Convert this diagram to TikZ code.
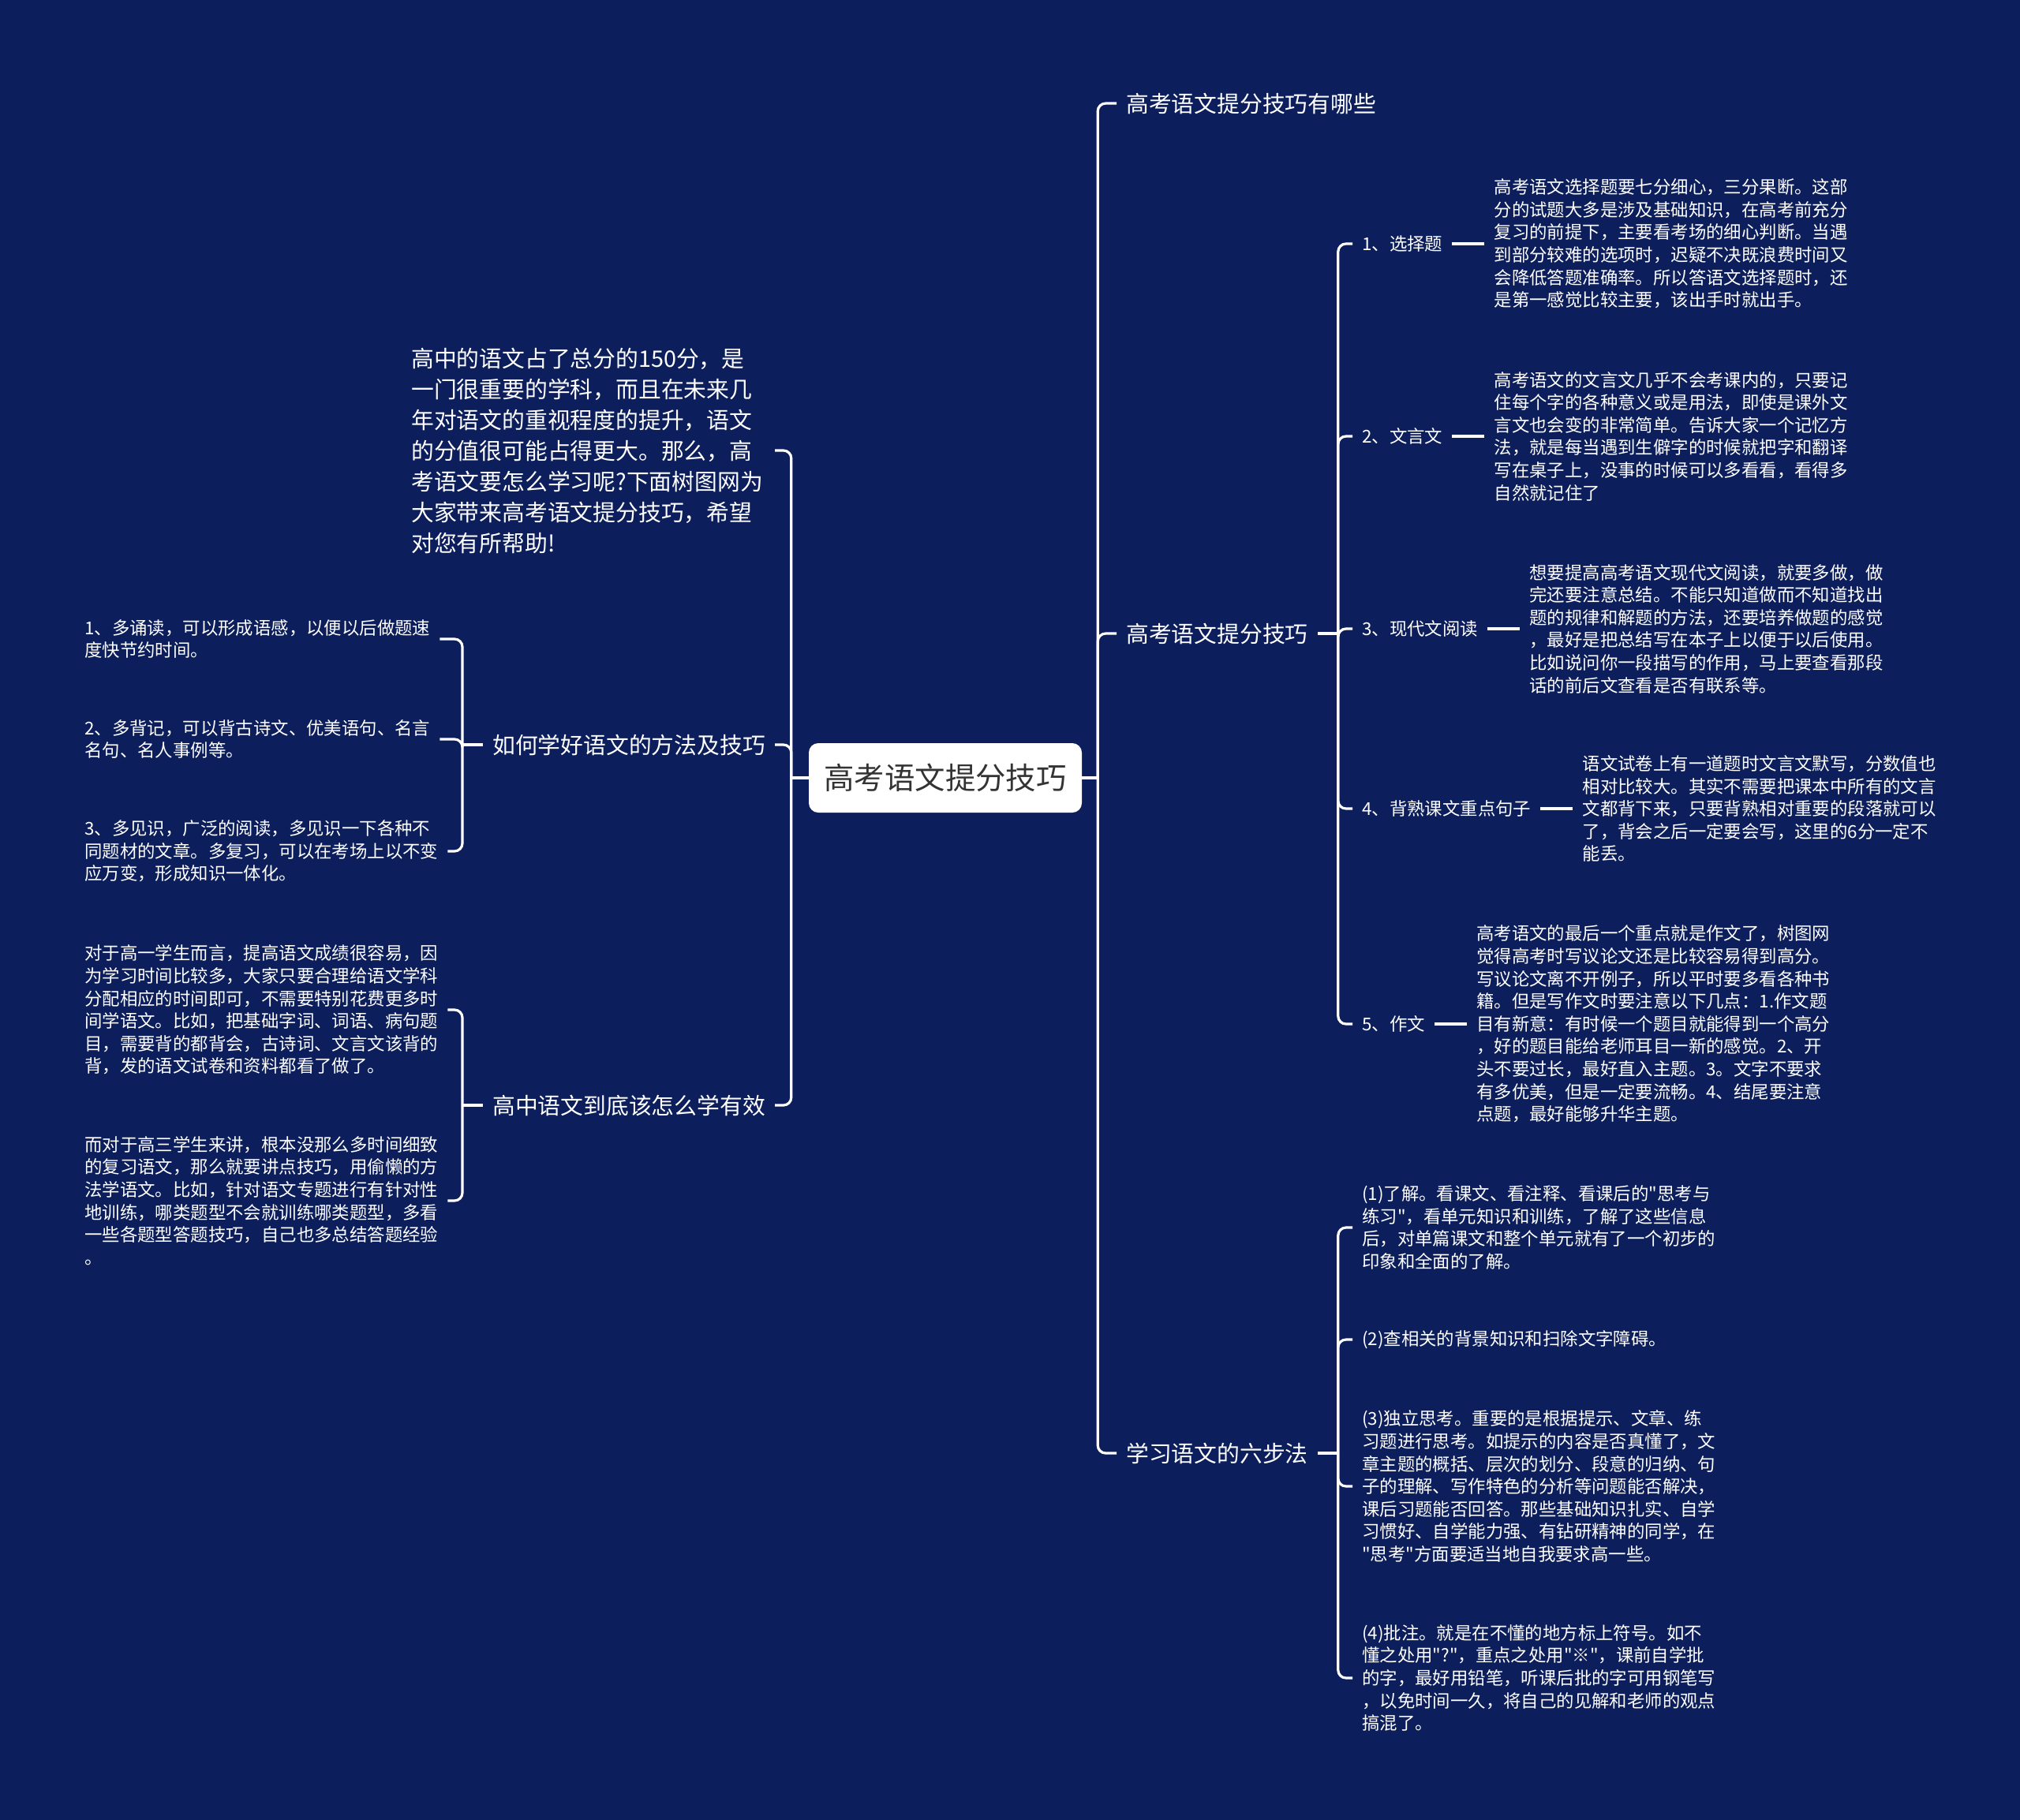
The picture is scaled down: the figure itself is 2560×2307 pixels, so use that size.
\documentclass[tikz,border=0pt]{standalone}
\usepackage{fontspec}
\setmainfont{Noto Sans CJK SC}[Ligatures=TeXOff]
\usetikzlibrary{positioning}
\definecolor{bg}{HTML}{0C1E5B}
\definecolor{ctext}{HTML}{333333}
\begin{document}
\begin{tikzpicture}[x=1pt,y=-1pt,
  conn/.style={draw=white,line width=3.2pt,rounded corners=10pt},
  lvl/.style={text=white,font=\fontsize{28.8}{39}\selectfont,inner xsep=12pt,inner ysep=4pt,align=left},
  sm/.style={text=white,font=\fontsize{22.4}{28.6}\selectfont,inner xsep=12pt,inner ysep=4pt,align=left},
  root/.style={fill=white,rounded corners=12pt,text=ctext,font=\fontsize{38.4}{46}\selectfont,minimum width=346pt,minimum height=88pt,inner sep=0pt}]
\fill[bg] (0,0) rectangle (2560,2307);
\useasboundingbox (0,0) rectangle (2560,2307);

\node[root] (R) at (1198,986) {高考语文提分技巧};

% right level 1
\node[lvl,anchor=west] (A1) at (1415,131) {高考语文提分技巧有哪些};
\node[lvl,anchor=west] (A2) at (1415,803) {高考语文提分技巧};
\node[lvl,anchor=west] (A3) at (1415,1842) {学习语文的六步法};

% right level 2 under A2
\node[sm,anchor=west] (B1) at (1714,309) {1、选择题};
\node[sm,anchor=west] (B2) at (1714,553) {2、文言文};
\node[sm,anchor=west] (B3) at (1714,797) {3、现代文阅读};
\node[sm,anchor=west] (B4) at (1714,1025) {4、背熟课文重点句子};
\node[sm,anchor=west] (B5) at (1714,1298) {5、作文};

\node[sm,right=41pt of B1] (C1) {高考语文选择题要七分细心，三分果断。这部\\分的试题大多是涉及基础知识，在高考前充分\\复习的前提下，主要看考场的细心判断。当遇\\到部分较难的选项时，迟疑不决既浪费时间又\\会降低答题准确率。所以答语文选择题时，还\\是第一感觉比较主要，该出手时就出手。};
\node[sm,right=41pt of B2] (C2) {高考语文的文言文几乎不会考课内的，只要记\\住每个字的各种意义或是用法，即使是课外文\\言文也会变的非常简单。告诉大家一个记忆方\\法，就是每当遇到生僻字的时候就把字和翻译\\写在桌子上，没事的时候可以多看看，看得多\\自然就记住了};
\node[sm,right=41pt of B3] (C3) {想要提高高考语文现代文阅读，就要多做，做\\完还要注意总结。不能只知道做而不知道找出\\题的规律和解题的方法，还要培养做题的感觉\\，最好是把总结写在本子上以便于以后使用。\\比如说问你一段描写的作用，马上要查看那段\\话的前后文查看是否有联系等。};
\node[sm,right=41pt of B4] (C4) {语文试卷上有一道题时文言文默写，分数值也\\相对比较大。其实不需要把课本中所有的文言\\文都背下来，只要背熟相对重要的段落就可以\\了，背会之后一定要会写，这里的6分一定不\\能丢。};
\node[sm,right=41pt of B5] (C5) {高考语文的最后一个重点就是作文了，树图网\\觉得高考时写议论文还是比较容易得到高分。\\写议论文离不开例子，所以平时要多看各种书\\籍。但是写作文时要注意以下几点：1.作文题\\目有新意：有时候一个题目就能得到一个高分\\，好的题目能给老师耳目一新的感觉。2、开\\头不要过长，最好直入主题。3。文字不要求\\有多优美，但是一定要流畅。4、结尾要注意\\点题，最好能够升华主题。};

% right level 2 under A3
\node[sm,anchor=west] (D1) at (1714,1556) {(1)了解。看课文、看注释、看课后的"思考与\\练习"，看单元知识和训练，了解了这些信息\\后，对单篇课文和整个单元就有了一个初步的\\印象和全面的了解。};
\node[sm,anchor=west] (D2) at (1714,1698) {(2)查相关的背景知识和扫除文字障碍。};
\node[sm,anchor=west] (D3) at (1714,1884) {(3)独立思考。重要的是根据提示、文章、练\\习题进行思考。如提示的内容是否真懂了，文\\章主题的概括、层次的划分、段意的归纳、句\\子的理解、写作特色的分析等问题能否解决，\\课后习题能否回答。那些基础知识扎实、自学\\习惯好、自学能力强、有钻研精神的同学，在\\"思考"方面要适当地自我要求高一些。};
\node[sm,anchor=west] (D4) at (1714,2127) {(4)批注。就是在不懂的地方标上符号。如不\\懂之处用"?"，重点之处用"※"，课前自学批\\的字，最好用铅笔，听课后批的字可用钢笔写\\，以免时间一久，将自己的见解和老师的观点\\搞混了。};

% left level 1
\node[lvl,anchor=west,text width=450pt] (E0) at (509,571) {高中的语文占了总分的150分，是\\一门很重要的学科，而且在未来几\\年对语文的重视程度的提升，语文\\的分值很可能占得更大。那么，高\\考语文要怎么学习呢?下面树图网为\\大家带来高考语文提分技巧，希望\\对您有所帮助!};
\node[lvl,anchor=east] (E1) at (982,944) {如何学好语文的方法及技巧};
\node[lvl,anchor=east] (E2) at (982,1401) {高中语文到底该怎么学有效};

% left level 2
\node[sm,anchor=west] (F1) at (95,810) {1、多诵读，可以形成语感，以便以后做题速\\度快节约时间。};
\node[sm,anchor=west] (F2) at (95,937) {2、多背记，可以背古诗文、优美语句、名言\\名句、名人事例等。};
\node[sm,anchor=west] (F3) at (95,1079) {3、多见识，广泛的阅读，多见识一下各种不\\同题材的文章。多复习，可以在考场上以不变\\应万变，形成知识一体化。};
\node[sm,anchor=west] (G1) at (95,1280) {对于高一学生而言，提高语文成绩很容易，因\\为学习时间比较多，大家只要合理给语文学科\\分配相应的时间即可，不需要特别花费更多时\\间学语文。比如，把基础字词、词语、病句题\\目，需要背的都背会，古诗词、文言文该背的\\背，发的语文试卷和资料都看了做了。};
\node[sm,anchor=west] (G2) at (95,1522) {而对于高三学生来讲，根本没那么多时间细致\\的复习语文，那么就要讲点技巧，用偷懒的方\\法学语文。比如，针对语文专题进行有针对性\\地训练，哪类题型不会就训练哪类题型，多看\\一些各题型答题技巧，自己也多总结答题经验\\。};

% connectors right
\draw[conn] (R.east) -- ++(20,0);
\foreach \c in {A1,A2,A3} \draw[conn] ([xshift=20pt]R.east) |- (\c.west);
\draw[conn] (A2.east) -- ++(26,0);
\foreach \c in {B1,B2,B3,B4,B5} \draw[conn] ([xshift=26pt]A2.east) |- (\c.west);
\draw[conn] (B1.east) -- (C1.west);
\draw[conn] (B2.east) -- (C2.west);
\draw[conn] (B3.east) -- (C3.west);
\draw[conn] (B4.east) -- (C4.west);
\draw[conn] (B5.east) -- (C5.west);
\draw[conn] (A3.east) -- ++(26,0);
\foreach \c in {D1,D2,D3,D4} \draw[conn] ([xshift=26pt]A3.east) |- (\c.west);

% connectors left
\draw[conn] (R.west) -- ++(-22,0);
\draw[conn] ([xshift=-22pt]R.west) |- (982,571);
\foreach \c in {E1,E2} \draw[conn] ([xshift=-22pt]R.west) |- (\c.east);
\draw[conn] (E1.west) -- ++(-26,0);
\foreach \c in {F1,F2,F3} \draw[conn] ([xshift=-26pt]E1.west) |- (\c.east);
\draw[conn] (E2.west) -- ++(-26,0);
\foreach \c in {G1,G2} \draw[conn] ([xshift=-26pt]E2.west) |- (\c.east);
\end{tikzpicture}
\end{document}
